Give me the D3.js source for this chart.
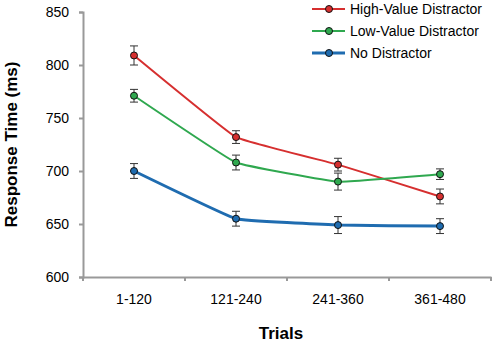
<!DOCTYPE html>
<html>
<head>
<meta charset="utf-8">
<script src="https://cdn.jsdelivr.net/npm/d3@7"></script>
<style>
  body { margin: 0; background: #fff; }
  text { font-family: Arial, 'Liberation Sans', sans-serif; }
</style>
</head>
<body>
<script>
(function () {
  'use strict'

  // Chart data
  var trials = ['1-120', '121-240', '241-360', '361-480']
  var seriesNames = ['High-Value Distractor', 'Low-Value Distractor', 'No Distractor']
  var highValue = [809, 732, 706, 676]
  var highError = [9, 6, 6, 7]
  var lowValue = [771, 708, 690, 697]
  var lowError = [6, 7, 8, 5]
  var noValue = [700, 655, 649, 648]
  var noError = [7, 7, 8, 7]
  var yTicks = [600, 650, 700, 750, 800, 850]

  var colors = ['#d62f2f', '#2fa84f', '#1f6cb0']
  var widths = [2, 2, 3]

  var w = 496
  var h = 346
  var left = 83
  var right = 491
  var top = 12
  var bottom = 277

  var series = [highValue, lowValue, noValue].map(function (vals, k) {
    var errs = [highError, lowError, noError][k]
    return {
      name: seriesNames[k],
      color: colors[k],
      width: widths[k],
      points: vals.map(function (v, i) { return { t: trials[i], v: v, e: errs[i] } })
    }
  })

  var x = d3.scaleBand().domain(trials).range([left, right])
  var y = d3.scaleLinear().domain([600, 850]).range([bottom, top])

  var svg = d3.select('body').append('svg')
    .attr('width', w)
    .attr('height', h)

  // Y axis
  var yAxis = svg.append('g')
    .attr('transform', 'translate(' + left + ',0)')
    .call(d3.axisLeft(y).tickValues(yTicks).tickSize(4).tickPadding(10))
  yAxis.selectAll('text').attr('font-size', 14).attr('fill', '#000')

  // X axis
  var xAxis = svg.append('g')
    .attr('transform', 'translate(0,' + bottom + ')')
    .call(d3.axisBottom(x).tickSize(0).tickPadding(17))
  xAxis.selectAll('text').attr('font-size', 14).attr('fill', '#000')
  xAxis.selectAll('.bound')
    .data(d3.range(trials.length + 1))
    .enter().append('line')
      .attr('x1', function (d) { return left + d * x.bandwidth() })
      .attr('x2', function (d) { return left + d * x.bandwidth() })
      .attr('y1', 0)
      .attr('y2', 4)

  svg.selectAll('.domain, .tick line, g line')
    .attr('stroke', '#999')
    .attr('stroke-width', 2)

  // Axis titles
  svg.append('text')
    .attr('transform', 'translate(17,' + ((top + bottom) / 2) + ') rotate(-90)')
    .attr('text-anchor', 'middle')
    .attr('font-size', 17)
    .attr('font-weight', 'bold')
    .text('Response Time (ms)')

  svg.append('text')
    .attr('x', 281)
    .attr('y', 339)
    .attr('text-anchor', 'middle')
    .attr('font-size', 17)
    .attr('font-weight', 'bold')
    .text('Trials')

  var cx = function (d) { return x(d.t) + x.bandwidth() / 2 }
  var line = d3.line()
    .x(cx)
    .y(function (d) { return y(d.v) })
    .curve(d3.curveCardinal.tension(0.75))

  var g = svg.selectAll('.series')
    .data(series)
    .enter().append('g')

  g.append('path')
    .attr('d', function (s) { return line(s.points) })
    .attr('fill', 'none')
    .attr('stroke', function (s) { return s.color })
    .attr('stroke-width', function (s) { return s.width })

  // Error bars
  var err = g.selectAll('.err')
    .data(function (s) { return s.points })
    .enter().append('g')
      .attr('stroke', '#333')
      .attr('stroke-width', 1)
  err.append('line')
    .attr('x1', cx).attr('x2', cx)
    .attr('y1', function (d) { return y(d.v + d.e) })
    .attr('y2', function (d) { return y(d.v - d.e) })
  err.append('line')
    .attr('x1', function (d) { return cx(d) - 4 }).attr('x2', function (d) { return cx(d) + 4 })
    .attr('y1', function (d) { return y(d.v + d.e) })
    .attr('y2', function (d) { return y(d.v + d.e) })
  err.append('line')
    .attr('x1', function (d) { return cx(d) - 4 }).attr('x2', function (d) { return cx(d) + 4 })
    .attr('y1', function (d) { return y(d.v - d.e) })
    .attr('y2', function (d) { return y(d.v - d.e) })

  g.selectAll('circle')
    .data(function (s) { return s.points.map(function (p) { return { p: p, c: s.color } }) })
    .enter().append('circle')
      .attr('cx', function (d) { return cx(d.p) })
      .attr('cy', function (d) { return y(d.p.v) })
      .attr('r', 3.5)
      .attr('fill', function (d) { return d.c })
      .attr('stroke', '#111')
      .attr('stroke-width', 1)

  // Legend
  var legend = svg.selectAll('.legend')
    .data(series)
    .enter().append('g')
      .attr('transform', function (s, i) { return 'translate(312,' + (9 + i * 22) + ')' })
  legend.append('line')
    .attr('x1', 0).attr('x2', 33)
    .attr('stroke', function (s) { return s.color })
    .attr('stroke-width', function (s) { return s.width })
  legend.append('circle')
    .attr('cx', 17)
    .attr('r', 3.5)
    .attr('fill', function (s) { return s.color })
    .attr('stroke', '#111')
  legend.append('text')
    .attr('x', 38)
    .attr('dy', '0.36em')
    .attr('font-size', 14)
    .text(function (s) { return s.name })
}())
</script>
</body>
</html>
